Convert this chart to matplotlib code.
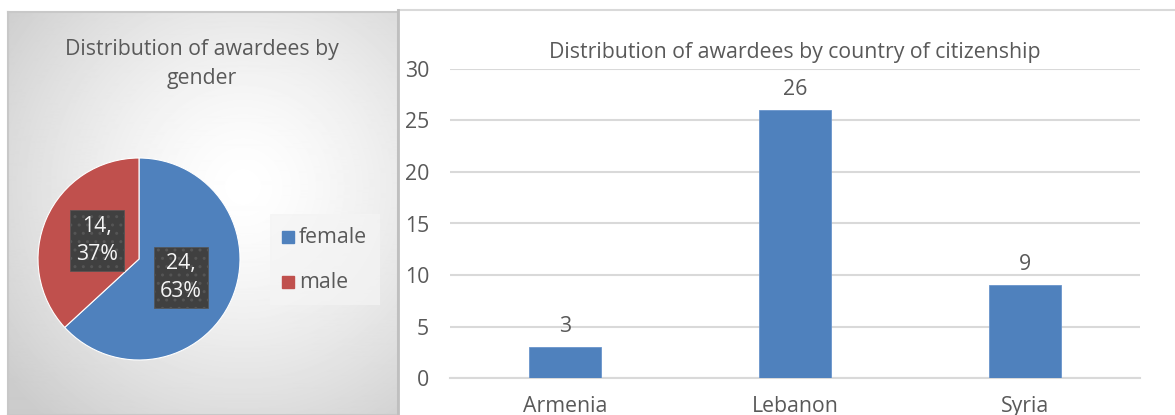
import numpy as np
import matplotlib
matplotlib.use("Agg")
from matplotlib import pyplot as plt
from matplotlib.patches import Rectangle

# data
genders = ["female", "male"]
gender_counts = [24, 14]
gender_colors = ["#4f81bd", "#c0504d"]

countries = ["Armenia", "Lebanon", "Syria"]
country_counts = [3, 26, 9]
y_ticks = [0, 5, 10, 15, 20, 25, 30]

W, H = 1175, 415
plt.rcParams['font.family'] = ['Open Sans', 'DejaVu Sans']
txt = '#595959'
fs = 15.3

fig = plt.figure(figsize=(W / 100, H / 100), dpi=100)
fig.patch.set_facecolor('white')


def px(x0, y0, x1, y1):
    # pixel box (top-left origin) -> figure fraction rect
    return [x0 / W, 1 - y1 / H, (x1 - x0) / W, (y1 - y0) / H]


'''lewy panel - szare tlo z gradientem'''
bg = fig.add_axes(px(8, 12, 398, 415))
yy, xx = np.mgrid[0:403, 0:390]
d = np.sqrt(((xx - 235) / 270.0) ** 2 + ((yy - 175) / 270.0) ** 2)
shade = np.clip(1.0 - 0.17 * d ** 1.4, 0.8, 1.0)
bg.imshow(shade, cmap='gray', vmin=0, vmax=1, aspect='auto', interpolation='bilinear')
bg.set_xticks([])
bg.set_yticks([])
for s in bg.spines.values():
    s.set_color('#c8c8c8')
    s.set_linewidth(1.5)

fig.text(202 / W, 1 - 64 / H, "Distribution of awardees by\ngender", ha='center', va='center',
         fontsize=fs, color=txt, linespacing=1.55)

'''wykres kolowy'''
pie_ax = fig.add_axes(px(139 - 120, 259 - 120, 139 + 120, 259 + 120))
total = sum(gender_counts)
wedges, _ = pie_ax.pie(gender_counts, colors=gender_colors, startangle=90, counterclock=False,
                       radius=1.01, center=(0, 0), frame=True,
                       wedgeprops=dict(linewidth=0.8, edgecolor='white'))
pie_ax.set_xlim(-1.2, 1.2)
pie_ax.set_ylim(-1.2, 1.2)
pie_ax.axis('off')
for w, v in zip(wedges, gender_counts):
    ang = np.deg2rad((w.theta1 + w.theta2) / 2)
    x, y = 0.46 * np.cos(ang), 0.46 * np.sin(ang)
    pct = round(100 * v / total)
    pie_ax.text(x, y, f"{v},\n{pct}%", ha='center', va='center', fontsize=fs, color='#f5f5f5',
                linespacing=1.45,
                bbox=dict(boxstyle='square,pad=0.3', fc='#404040', ec='#555555', lw=0.5, hatch='..'))

'''legenda'''
leg_ax = fig.add_axes(px(270, 214, 380, 305))
leg_ax.set_xlim(0, 110)
leg_ax.set_ylim(91, 0)
leg_ax.axis('off')
leg_ax.add_patch(Rectangle((0, 0), 110, 91, color='#f4f4f4', alpha=0.7))
for i, (g, c) in enumerate(zip(genders, gender_colors)):
    yc = 23 + i * 45
    leg_ax.add_patch(Rectangle((12, yc - 6), 12, 12, color=c))
    leg_ax.text(29, yc, g, va='center', ha='left', fontsize=fs, color=txt)

'''prawy panel - ramka'''
fig.add_artist(plt.Line2D([398 / W, 1], [1 - 10 / H, 1 - 10 / H], color='#d9d9d9', lw=1.5))
fig.add_artist(plt.Line2D([398 / W, 398 / W], [0, 1 - 10 / H], color='#bfbfbf', lw=2))

'''wykres slupkowy'''
ax = fig.add_axes(px(450, 69, 1140, 378))
x = np.arange(len(countries))
bars = ax.bar(x, country_counts, width=0.31, color='#4f81bd', edgecolor='#6a95cc', lw=0.6, zorder=3)
ax.set_xlim(-0.5, len(countries) - 0.5)
ax.set_ylim(0, 30)
ax.set_yticks(y_ticks)
ax.set_xticks(x)
ax.set_xticklabels(countries)
ax.grid(axis='y', color='#d9d9d9', lw=1.5, zorder=0)
ax.tick_params(length=0, labelsize=fs, labelcolor=txt)
ax.tick_params(axis='y', pad=15)
ax.tick_params(axis='x', pad=13)
for s in ['top', 'right', 'left']:
    ax.spines[s].set_visible(False)
ax.spines['bottom'].set_color('#d9d9d9')
ax.spines['bottom'].set_linewidth(1.5)
ax.set_facecolor('none')
for b, v in zip(bars, country_counts):
    ax.text(b.get_x() + b.get_width() / 2, v + 1.0, str(v), ha='center', va='bottom',
            fontsize=fs, color=txt)
ax.set_title("Distribution of awardees by country of citizenship", fontsize=fs, color=txt, pad=8)

fig.savefig("out.png", dpi=100)
